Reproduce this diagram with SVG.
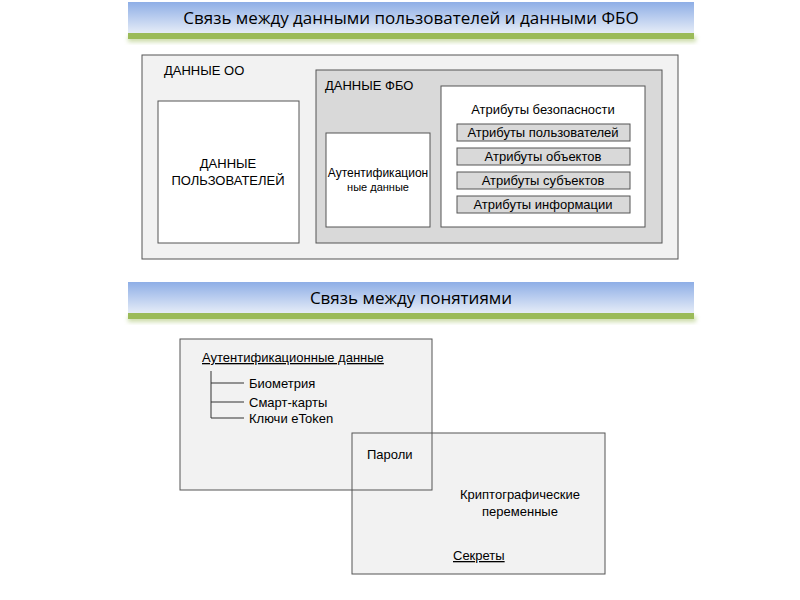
<svg xmlns="http://www.w3.org/2000/svg" width="800" height="600" viewBox="0 0 800 600">
<style>
text{font-family:"Liberation Sans",Arial,sans-serif;fill:#000}
.t{font-family:"Open Sans","Liberation Sans",sans-serif;font-size:17px}
.b{stroke:#555;stroke-width:1}
.s{font-size:12px}
.m{font-size:13px}
</style>
<defs>
<linearGradient id="g" x1="0" y1="0" x2="0" y2="1"><stop offset="0" stop-color="#8eaee6"/><stop offset="1" stop-color="#e8eef8"/></linearGradient>
<filter id="sh" x="-5%" y="-50%" width="110%" height="200%"><feGaussianBlur stdDeviation="2"/></filter>
</defs>
<g id="title1">
<rect x="128" y="36" width="568" height="6" fill="#9bbb59" opacity="0.5" filter="url(#sh)"/>
<rect x="128" y="2" width="566" height="32" fill="url(#g)"/>
<rect x="128" y="33" width="566" height="6" fill="#9bbb59"/>
<text class="t" x="411" y="24" text-anchor="middle">Связь между данными пользователей и данными ФБО</text>
</g>
<g id="outer"><rect class="b" x="142" y="55" width="536" height="204" fill="#f2f2f2"/><text class="m" x="164" y="75">ДАННЫЕ ОО</text></g>
<g id="users"><rect class="b" x="158" y="101" width="141" height="142" fill="#fff"/><text class="m" x="228" y="168" text-anchor="middle">ДАННЫЕ</text><text class="m" x="228" y="185" text-anchor="middle">ПОЛЬЗОВАТЕЛЕЙ</text></g>
<g id="fbo"><rect class="b" x="316" y="70" width="346" height="173" fill="#d9d9d9"/><text class="m" x="325" y="90">ДАННЫЕ ФБО</text></g>
<g id="auth"><rect class="b" x="326" y="133" width="104" height="94" fill="#fff"/><text class="s" x="378" y="177" text-anchor="middle" font-size="11">Аутентификацион</text><text x="378" y="191" text-anchor="middle" font-size="11">ные данные</text></g>
<g id="attrs"><rect class="b" x="441" y="86" width="204" height="141" fill="#fff"/><text class="m" x="543" y="114" text-anchor="middle">Атрибуты безопасности</text></g>
<g id="a1"><rect class="b" x="457" y="124" width="173" height="17" fill="#d9d9d9"/><text class="m" x="543" y="137" text-anchor="middle">Атрибуты пользователей</text></g>
<g id="a2"><rect class="b" x="457" y="148" width="173" height="17" fill="#d9d9d9"/><text class="m" x="543" y="161" text-anchor="middle">Атрибуты объектов</text></g>
<g id="a3"><rect class="b" x="457" y="172" width="173" height="17" fill="#d9d9d9"/><text class="m" x="543" y="185" text-anchor="middle">Атрибуты субъектов</text></g>
<g id="a4"><rect class="b" x="457" y="196" width="173" height="17" fill="#d9d9d9"/><text class="m" x="543" y="209" text-anchor="middle">Атрибуты информации</text></g>
<g id="title2">
<rect x="128" y="316" width="568" height="6" fill="#9bbb59" opacity="0.5" filter="url(#sh)"/>
<rect x="128" y="282" width="566" height="32" fill="url(#g)"/>
<rect x="128" y="313" width="566" height="6" fill="#9bbb59"/>
<text class="t" x="411" y="304" text-anchor="middle">Связь между понятиями</text>
</g>
<rect x="180" y="339" width="252" height="151" fill="#f2f2f2"/>
<rect x="352" y="433" width="253" height="141" fill="#f2f2f2"/>
<g id="authbox"><rect class="b" x="180" y="339" width="252" height="151" fill="none"/><text class="m" x="202" y="362" text-decoration="underline">Аутентификационные данные</text>
<text class="m" x="249" y="388">Биометрия</text><text class="m" x="249" y="407">Смарт-карты</text><text class="m" x="249" y="423">Ключи eToken</text></g>
<g id="connectors" stroke="#333" fill="none"><path d="M211 371V418H244M211 383H244M211 402H244"/></g>
<g id="secrets"><rect class="b" x="352" y="433" width="253" height="141" fill="none"/><text class="m" x="367" y="459">Пароли</text>
<text class="m" x="520" y="499" text-anchor="middle">Криптографические</text><text class="m" x="520" y="516" text-anchor="middle">переменные</text>
<text class="m" x="453" y="560" text-decoration="underline">Секреты</text></g>
</svg>
